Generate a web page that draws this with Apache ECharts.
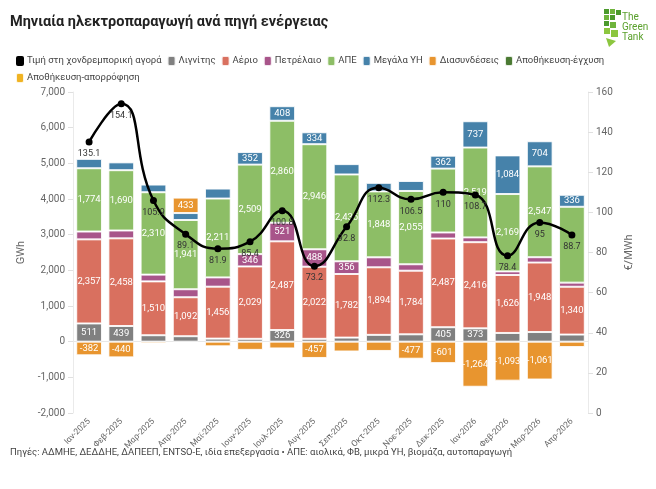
<!DOCTYPE html>
<html>
<head>
<meta charset="utf-8">
<script src="https://cdn.jsdelivr.net/npm/echarts@6/dist/echarts.min.js"></script>
<style>
html,body{margin:0;padding:0;background:#fff;}
#c{width:656px;height:489px;}
</style>
</head>
<body>
<div id="c"></div>
<script>
var months = ['Ιαν-2025','Φεβ-2025','Μαρ-2025','Απρ-2025','Μαϊ-2025','Ιουν-2025','Ιουλ-2025','Αυγ-2025','Σεπ-2025','Οκτ-2025','Νοε-2025','Δεκ-2025','Ιαν-2026','Φεβ-2026','Μαρ-2026','Απρ-2026'];
var price = [135.1,154.1,105.9,89.1,81.9,85.4,100.8,73.2,92.8,112.3,106.5,110,108.7,78.4,95,88.7];
var lignite = [511,439,180,153,86,80,326,80,115,191,206,405,373,244,270,200];
var gas = [2357,2458,1510,1092,1456,2029,2487,2022,1782,1894,1784,2487,2416,1626,1948,1340];
var oil = [220,220,190,225,260,346,521,488,356,280,180,170,135,100,150,115];
var res = [1774,1690,2310,1941,2211,2509,2860,2946,2435,1848,2055,1790,2519,2169,2547,2127];
var hydro = [263,220,215,195,280,352,408,334,290,240,280,362,737,1084,704,336];
var interconn = [-382,-440,-50,433,-130,-230,-190,-457,-275,-260,-477,-601,-1264,-1093,-1061,-150];
var storageIn = [0,0,0,0,0,0,0,0,0,0,0,0,0,0,0,0];
var storageOut = [0,0,0,0,0,0,0,0,0,0,0,0,0,0,0,0];
var leftTicks = {min:-2000, max:7000, interval:1000};
var rightTicks = {min:0, max:160, interval:20};

var FONT = '"Roboto","Noto Sans",sans-serif';
var resHidden = [11,15];

function fmt(v){ return Number(v).toLocaleString('en-US'); }
function mk(arr, hide){
  return arr.map(function(v,i){
    if (v === 0) return null;
    var show = Math.abs(v) >= 320 && !(hide && hide.indexOf(i) >= 0);
    return {value: v, label: {show: show}};
  });
}
function barSeries(name, arr, color, hide){
  return {
    name: name, type: 'bar', stack: 'gen', yAxisIndex: 0,
    barWidth: '80%',
    itemStyle: {color: color, borderColor: 'rgba(255,255,255,0.85)', borderWidth: 1},
    label: {show: true, position: 'inside', color: '#fff', fontSize: 9.5, fontFamily: FONT,
            formatter: function(p){ return fmt(p.value); }},
    emphasis: {disabled: true},
    data: mk(arr, hide)
  };
}

var chart = echarts.init(document.getElementById('c'));
chart.setOption({
  animation: false,
  textStyle: {fontFamily: FONT},
  grid: {left: 73, right: 68, top: 92, bottom: 76},
  legend: {
    left: 10, top: 50, width: 610, itemWidth: 8, itemHeight: 10, itemGap: 5,
    icon: 'roundRect',
    textStyle: {fontSize: 9.5, color: '#444', fontFamily: FONT, padding: [0,0,0,-2]},
    data: ['Τιμή στη χονδρεμπορική αγορά','Λιγνίτης','Αέριο','Πετρέλαιο','ΑΠΕ','Μεγάλα ΥΗ','Διασυνδέσεις','Αποθήκευση-έγχυση','Αποθήκευση-απορρόφηση']
  },
  xAxis: {
    type: 'category', data: months,
    axisLine: {lineStyle: {color: '#e8e8e8'}},
    axisTick: {alignWithLabel: true, lineStyle: {color: '#e8e8e8'}},
    axisLabel: {rotate: 45, fontSize: 8.5, color: '#666', fontFamily: FONT, margin: 7}
  },
  yAxis: [{
    type: 'value', min: leftTicks.min, max: leftTicks.max, interval: leftTicks.interval,
    name: 'GWh', nameLocation: 'middle', nameGap: 45, nameRotate: 90,
    nameTextStyle: {fontSize: 11, color: '#666', fontFamily: FONT},
    axisLine: {show: true, lineStyle: {color: '#eaeaea'}},
    axisTick: {show: true, length: 5, lineStyle: {color: '#e0e0e0'}},
    splitLine: {show: false},
    axisLabel: {fontSize: 10, color: '#666', fontFamily: FONT, formatter: function(v){return fmt(v);}}
  },{
    type: 'value', min: rightTicks.min, max: rightTicks.max, interval: rightTicks.interval,
    name: '€/MWh', nameLocation: 'middle', nameGap: 36, nameRotate: 90,
    nameTextStyle: {fontSize: 11, color: '#666', fontFamily: FONT},
    axisLine: {show: true, lineStyle: {color: '#eaeaea'}},
    axisTick: {show: true, length: 5, lineStyle: {color: '#e0e0e0'}},
    splitLine: {show: false},
    axisLabel: {fontSize: 10, color: '#666', fontFamily: FONT}
  }],
  series: [
    {
      name: 'Τιμή στη χονδρεμπορική αγορά', type: 'line', yAxisIndex: 1, z: 10,
      smooth: 0.5, symbol: 'circle', symbolSize: 7,
      lineStyle: {color: '#000', width: 2.5}, itemStyle: {color: '#000'},
      label: {show: true, position: 'bottom', distance: 4, fontSize: 9, color: '#333', fontFamily: FONT},
      emphasis: {disabled: true},
      data: price
    },
    barSeries('Λιγνίτης', lignite, '#808080'),
    barSeries('Αέριο', gas, '#d9705f'),
    barSeries('Πετρέλαιο', oil, '#a8558a'),
    barSeries('Αποθήκευση-έγχυση', storageIn, '#4b7a33'),
    barSeries('ΑΠΕ', res, '#8dbe66', resHidden),
    barSeries('Μεγάλα ΥΗ', hydro, '#4682aa'),
    barSeries('Διασυνδέσεις', interconn, '#e8952f'),
    barSeries('Αποθήκευση-απορρόφηση', storageOut, '#f0b323')
  ],
  graphic: [
    {type: 'text', left: 10, top: 15, style: {text: 'Μηνιαία ηλεκτροπαραγωγή ανά πηγή ενέργειας', fontSize: 14.5, fontWeight: 'bold', fill: '#222', fontFamily: FONT}},
    {type: 'text', left: 10, top: 448, style: {text: 'Πηγές: ΑΔΜΗΕ, ΔΕΔΔΗΕ, ΔΑΠΕΕΠ, ENTSO-E, ιδία επεξεργασία • ΑΠΕ: αιολικά, ΦΒ, μικρά ΥΗ, βιομάζα, αυτοπαραγωγή', fontSize: 9.5, fill: '#444', fontFamily: FONT}},
    {type: 'group', left: 604, top: 9, children: [
      {type: 'rect', shape: {x: 0, y: 0, width: 5, height: 5}, style: {fill: '#4b9a2c'}},
      {type: 'rect', shape: {x: 6, y: 0, width: 5, height: 5}, style: {fill: '#6fb43c'}},
      {type: 'rect', shape: {x: 12, y: 1, width: 5, height: 5}, style: {fill: '#4b9a2c'}},
      {type: 'rect', shape: {x: 0, y: 6, width: 5, height: 5}, style: {fill: '#6fb43c'}},
      {type: 'rect', shape: {x: 6, y: 6, width: 5, height: 5}, style: {fill: '#4b9a2c'}},
      {type: 'rect', shape: {x: 0, y: 12, width: 5, height: 5}, style: {fill: '#4b9a2c'}},
      {type: 'rect', shape: {x: 6, y: 13, width: 6, height: 6}, style: {fill: '#6fb43c'}},
      {type: 'rect', shape: {x: 0, y: 19, width: 6, height: 6}, style: {fill: '#8cc63f'}},
      {type: 'rect', shape: {x: 7, y: 21, width: 7, height: 7}, style: {fill: '#8cc63f'}},
      {type: 'polygon', shape: {points: [[2,29],[12,32],[5,38]]}, style: {fill: '#8cc63f'}},
      {type: 'text', x: 18, y: 3, style: {text: 'The', fontSize: 10, fill: '#5aa02c', fontFamily: FONT}},
      {type: 'text', x: 18, y: 13, style: {text: 'Green', fontSize: 10, fill: '#5aa02c', fontFamily: FONT}},
      {type: 'text', x: 18, y: 23, style: {text: 'Tank', fontSize: 10, fill: '#5aa02c', fontFamily: FONT}}
    ]}
  ]
});
</script>
</body>
</html>
